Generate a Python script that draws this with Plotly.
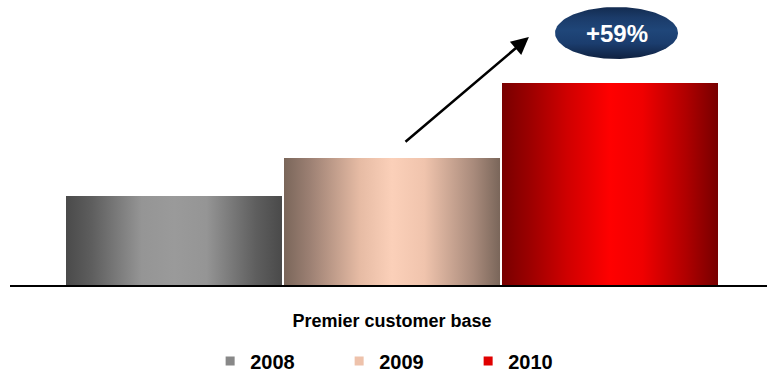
import numpy as np
import plotly.graph_objects as go

# Data
years = ["2008", "2009", "2010"]
customers = [89, 127, 202]          # premier customer base (relative units)
category = "Premier customer base"

# Horizontal shading for each year's bar: dark edges, light centre
bar_scales = [
    [[0, "#4a4a4a"], [0.12, "#5e5e5e"], [0.35, "#959595"], [0.5, "#9a9a9a"],
     [0.65, "#959595"], [0.88, "#5e5e5e"], [1, "#4a4a4a"]],
    [[0, "#7a665a"], [0.12, "#9c8073"], [0.35, "#e6bba4"], [0.5, "#fbd0b9"],
     [0.65, "#f0c4ad"], [0.88, "#a88a7b"], [1, "#7a665a"]],
    [[0, "#780000"], [0.12, "#990000"], [0.3, "#cf0000"], [0.5, "#ff0000"],
     [0.65, "#f00000"], [0.85, "#b00000"], [1, "#770000"]],
]
solid_colors = ["#7a7a7a", "#d9ad97", "#d40000"]
legend_colors = ["#888888", "#eec2ab", "#e00000"]

FONT = "Liberation Sans, Arial, sans-serif"
offsets = [-1, 0, 1]
bar_width = 216 / 218

fig = go.Figure()

for i, (yr, v) in enumerate(zip(years, customers)):
    xc = offsets[i]
    x0, x1 = xc - bar_width / 2, xc + bar_width / 2
    fig.add_trace(go.Bar(
        x=[xc], y=[v], width=bar_width, name=yr,
        marker=dict(color=solid_colors[i], line=dict(width=0)),
        showlegend=False, hoverinfo="skip",
    ))
    # gradient face of the bar
    fig.add_trace(go.Scatter(
        x=[x0, x1, x1, x0, x0], y=[0, 0, v, v, 0],
        mode="lines", fill="toself", line=dict(width=0),
        fillgradient=dict(type="horizontal", colorscale=bar_scales[i]),
        showlegend=False, hoverinfo="skip",
    ))

# Legend entries
for yr, c in zip(years, legend_colors):
    fig.add_trace(go.Scatter(
        x=[None], y=[None], mode="markers",
        marker=dict(symbol="square", size=9, color=c),
        name=yr,
    ))

# Growth badge: ellipse with a vertical shade above the 2010 bar
growth = round((customers[2] / customers[1] - 1) * 100)
cx, cy = offsets[2] + 0.03, customers[2] + 50
rx, ry = 61.5 / 218, 26
t = np.linspace(0, 2 * np.pi, 121)
fig.add_trace(go.Scatter(
    x=cx + rx * np.cos(t), y=cy + ry * np.sin(t),
    mode="lines", fill="toself", line=dict(width=0),
    fillgradient=dict(type="vertical", colorscale=[
        [0, "#0f2140"], [0.3, "#1b3d6e"], [0.55, "#1f4679"], [0.8, "#1b3b69"], [1, "#132b50"]]),
    showlegend=False, hoverinfo="skip",
))
fig.add_annotation(
    x=cx, y=cy, text=f"<b>+{growth}%</b>", showarrow=False,
    font=dict(family=FONT, size=24, color="white"),
)

# Growth arrow from the 2009 bar toward the badge
fig.add_annotation(
    x=offsets[2] - 0.372, y=customers[2] + 46,
    ax=offsets[1] + 0.055, ay=customers[1] + 15,
    axref="x", ayref="y", xref="x", yref="y",
    text="", showarrow=True, arrowhead=2, arrowsize=1.4,
    arrowwidth=2.5, arrowcolor="black",
)

fig.update_layout(
    width=767, height=374,
    margin=dict(l=10, r=0, t=0, b=89, autoexpand=False),
    paper_bgcolor="white", plot_bgcolor="white",
    barmode="overlay",
    font=dict(family=FONT, color="black"),
    xaxis=dict(
        range=[-1.7523, 1.7202], showgrid=False, zeroline=False,
        showline=True, linecolor="black", linewidth=2,
        tickvals=[0], ticktext=[category],
        tickfont=dict(family=FONT, size=18, color="black", weight="bold"),
        ticks="", ticklabelstandoff=18, automargin=False,
    ),
    yaxis=dict(range=[0, 285], visible=False),
    legend=dict(
        orientation="h", x=0.52, xanchor="center",
        yref="container", y=0.035, yanchor="middle",
        font=dict(family=FONT, size=20, color="black", weight="bold"),
        entrywidth=84, itemclick=False, itemdoubleclick=False,
    ),
    showlegend=True,
)

fig.write_html("out.html")
